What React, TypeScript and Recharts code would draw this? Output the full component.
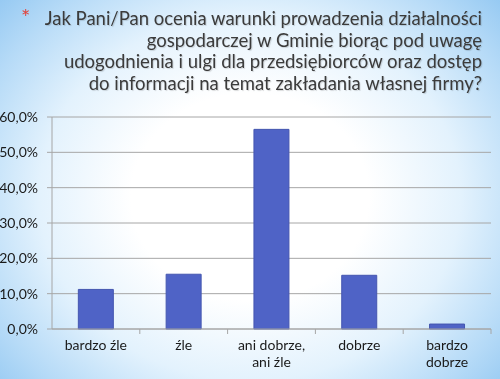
import { BarChart, Bar, XAxis, YAxis, CartesianGrid } from 'recharts'

const categories = ['bardzo źle', 'źle', 'ani dobrze, ani źle', 'dobrze', 'bardzo dobrze']
const categoryLines = [['bardzo źle'], ['źle'], ['ani dobrze,', 'ani źle'], ['dobrze'], ['bardzo', 'dobrze']]
const shares = [11.2, 15.5, 56.5, 15.2, 1.4]
const yTicks = [0, 10, 20, 30, 40, 50, 60]
const titleLines = [
  'Jak Pani/Pan ocenia warunki prowadzenia działalności',
  'gospodarczej w Gminie biorąc pod uwagę',
  'udogodnienia i ulgi dla przedsiębiorców oraz dostęp',
  'do informacji na temat zakładania własnej firmy?',
]

const data = categories.map((name, i) => ({ name, value: shares[i] }))

const FONT = 'Lato, "Open Sans", sans-serif'
const CHART_W = 500
const MARGIN = { top: 17, right: 9, bottom: 10, left: 0 }
const Y_W = 52
const BAND = (CHART_W - MARGIN.left - MARGIN.right - Y_W) / categories.length

function fmt(v: number) {
  return v.toFixed(1).replace('.', ',') + '%'
}

function CatTick(props: any) {
  const { x, y, payload, index } = props
  const lines: string[] = categoryLines[index] ?? [payload.value]
  return (
    <g>
      <line x1={x + BAND / 2} x2={x + BAND / 2} y1={y - 8} y2={y - 3} stroke="#a6a6a6" />
      {lines.map((l, i) => (
        <text
          key={i}
          x={x}
          y={y + 13 + i * 17}
          textAnchor="middle"
          fill="#1a1a1a"
          fontSize={14}
          fontFamily={FONT}
        >
          {l}
        </text>
      ))}
    </g>
  )
}

export default function App() {
  return (
    <div
      style={{
        position: 'fixed',
        left: 0,
        top: 0,
        width: 500,
        height: 379,
        overflow: 'hidden',
        background:
          'radial-gradient(ellipse 68% 78% at 50% 52%, #ffffff 35%, #e3f2fd 62%, #b5daf7 85%, #95c9f2 100%)',
      }}
    >
      <div
        style={{
          position: 'absolute',
          left: 21,
          top: 3,
          color: '#e0463f',
          fontSize: 22,
          fontFamily: FONT,
        }}
      >
        *
      </div>
      <div
        style={{
          position: 'absolute',
          right: 18,
          top: 8,
          textAlign: 'right',
          whiteSpace: 'nowrap',
          color: '#3b3b3b',
          fontSize: 18.5,
          lineHeight: '21.5px',
          fontFamily: FONT,
          textShadow: '1px 1px 1px rgba(0,0,0,0.15)',
        }}
      >
        {titleLines.map((t, i) => (
          <div key={i}>{t}</div>
        ))}
      </div>
      <div style={{ position: 'absolute', left: 0, top: 100 }}>
        <BarChart width={CHART_W} height={279} data={data} margin={MARGIN} barCategoryGap="30%">
          <CartesianGrid vertical={false} stroke="#a6a6a6" />
          <XAxis
            dataKey="name"
            height={40}
            axisLine={{ stroke: '#a6a6a6' }}
            tickLine={false}
            interval={0}
            tick={<CatTick />}
          />
          <YAxis
            width={Y_W}
            domain={[0, 60]}
            ticks={yTicks}
            tickFormatter={fmt}
            axisLine={{ stroke: '#a6a6a6' }}
            tickLine={{ stroke: '#a6a6a6' }}
            tickSize={5}
            tickMargin={9}
            tick={{ fill: '#1a1a1a', fontSize: 14, fontFamily: FONT }}
          />
          <Bar dataKey="value" fill="#4f63c6" stroke="#4456b0" isAnimationActive={false} />
        </BarChart>
      </div>
    </div>
  )
}
